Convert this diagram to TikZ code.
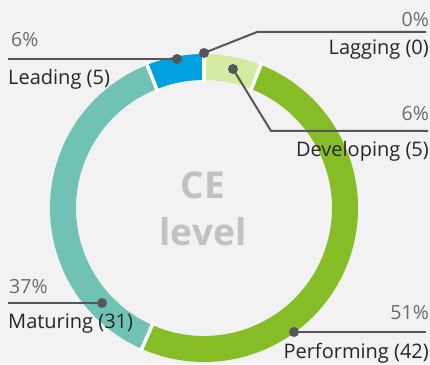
\documentclass[tikz,border=0pt]{standalone}
\usepackage{fontspec}
\setmainfont{Open Sans}
\usepackage{xcolor}
\usetikzlibrary{calc}
\definecolor{bgcol}{HTML}{F2F2F2}
\definecolor{leadcol}{HTML}{00A1DE}
\definecolor{devcol}{HTML}{D3EBA3}
\definecolor{perfcol}{HTML}{86BC25}
\definecolor{matcol}{HTML}{6FC2B4}
\definecolor{linecol}{HTML}{55565A}
\definecolor{pctcol}{HTML}{6B6B6B}
\definecolor{labcol}{HTML}{262626}
\definecolor{midcol}{HTML}{C2C2C2}

\begin{document}
\begin{tikzpicture}[x=1pt,y=1pt,
  dot/.style={circle,fill=linecol,inner sep=0pt,minimum size=10pt},
  leader/.style={draw=linecol,line width=2pt},
  pct/.style={inner sep=0pt,text=pctcol,font=\fontsize{19.5}{21}\selectfont},
  lab/.style={inner sep=0pt,text=labcol,font=\fontsize{20}{22}\selectfont},
  mid/.style={inner sep=0pt,text=midcol,font=\fontsize{37}{40}\selectfont\bfseries}]
\fill[bgcol] (0,0) rectangle (430,364);
\useasboundingbox (0,0) rectangle (430,364);
\coordinate (c) at (204,156);
% ring
\begin{scope}[shift={(c)}]
\foreach \a/\b/\col in {90/68.313/devcol,68.313/-113.855/perfcol,-113.855/-248.313/matcol,-248.313/-270/leadcol}
{ \fill[\col] (\a:154) arc (\a:\b:154) -- (\b:128) arc (\b:\a:128) -- cycle; }
\foreach \a in {90,68.313,-113.855,111.687}{ \draw[white,line width=3.5pt] (\a:125) -- (\a:157); }
\end{scope}
\node[mid,anchor=base] (ce) at (203,165) {CE};
\node[mid,anchor=base] (lvl) at (203,119) {level};
% leaders
\node[dot] (lead) at (177,305) {};
\node[dot] (lag) at (204,311) {};
\node[dot] (dev) at (233,295) {};
\node[dot] (mat) at (102,61) {};
\node[dot] (perf) at (294,32) {};
\coordinate (leadend) at (8,305);
\coordinate (lagbend) at (257,332); \coordinate (lagend) at (426,332);
\coordinate (devbend) at (271,233); \coordinate (devend) at (428,233);
\coordinate (matend) at (8,61);
\coordinate (perfend) at (426,32);
\draw[leader] (lead.center) -- (leadend);
\draw[leader] (lag.center) -- (lagbend) -- (lagend);
\draw[leader] (dev.center) -- (devbend) -- (devend);
\draw[leader] (mat.center) -- (matend);
\draw[leader] (perf.center) -- (perfend);
% labels
\node[pct,anchor=base west] (leadp) at (11,317) {6\%};
\node[lab,anchor=base west] (leadl) at (8,279) {Leading (5)};
\node[pct,anchor=base east] (lagp) at (429,337) {0\%};
\node[lab,anchor=base east] (lagl) at (429,309) {Lagging (0)};
\node[pct,anchor=base east] (devp) at (429,243) {6\%};
\node[lab,anchor=base east] (devl) at (429,207) {Developing (5)};
\node[pct,anchor=base west] (matp) at (9,71) {37\%};
\node[lab,anchor=base west] (matl) at (8,36) {Maturing (31)};
\node[pct,anchor=base east] (perfp) at (429,45) {51\%};
\node[lab,anchor=base east] (perfl) at (429,6) {Performing (42)};
\end{tikzpicture}
\end{document}
